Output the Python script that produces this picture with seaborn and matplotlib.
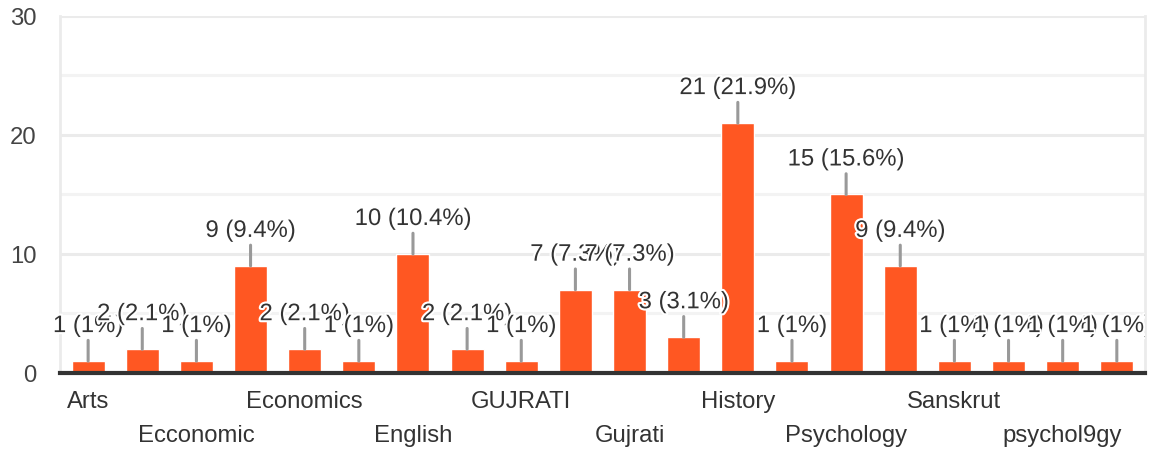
import matplotlib
matplotlib.use("Agg")
import matplotlib.pyplot as plt
import matplotlib.patheffects as pe
from matplotlib.transforms import Bbox
import seaborn as sns
import pandas as pd

# answers (only every other name is printed on the axis)
categories = ["Arts", "B.A.", "Ecconomic", "Economic", "Economics", "Education",
              "English", "Geography", "GUJRATI", "Gujarati", "Gujrati", "Hindi",
              "History", "Philosophy", "Psychology", "Sanskrit", "Sanskrut",
              "Sociology", "psychol9gy", "psychology"]
counts = [1, 2, 1, 9, 2, 1, 10, 2, 1, 7, 7, 3, 21, 1, 15, 9, 1, 1, 1, 1]
y_ticks = [0, 10, 20, 30]

total = sum(counts)
df = pd.DataFrame({"answer": categories, "count": counts})

sns.set_theme(style="white")
plt.rcParams['font.family'] = ['Liberation Sans', 'DejaVu Sans']

fig = plt.figure(figsize=(11.49, 4.52), dpi=100)
ax = fig.add_axes([0.0522, 0.1726, 0.9443, 0.7898])

sns.barplot(data=df, x="answer", y="count", color="#ff5722", saturation=1,
            width=0.61, ax=ax, zorder=2)

ax.set_ylim(0, 30)
ax.set_xlim(-0.52, len(categories) - 0.48)
ax.set_yticks(y_ticks)
ax.set_yticks([5, 15, 25], minor=True)
ax.grid(axis="y", which="major", color="#ebebeb", lw=2.2, zorder=0)
ax.grid(axis="y", which="minor", color="#f3f3f3", lw=2.2, zorder=0)
ax.set_axisbelow(True)

ax.spines["top"].set_visible(False)
for s in ["left", "right"]:
    ax.spines[s].set_color("#ebebeb")
    ax.spines[s].set_linewidth(2)
ax.spines["bottom"].set_color("#333333")
ax.spines["bottom"].set_linewidth(3)
ax.spines["bottom"].set_zorder(5)

# staggered category labels: two rows, every other category
row1 = list(range(0, len(categories), 4))
row2 = list(range(2, len(categories), 4))
ax.set_xticks(row1)
ax.set_xticklabels([categories[i] for i in row1])
ax.set_xticks(row2, minor=True)
ax.set_xticklabels([categories[i] for i in row2], minor=True)
ax.tick_params(axis="x", which="major", length=0, pad=12, labelsize=17.2, labelcolor="#333333")
ax.tick_params(axis="x", which="minor", length=0, pad=37, labelsize=17.2, labelcolor="#333333")
ax.tick_params(axis="y", which="both", length=0, pad=17, labelsize=17.2, labelcolor="#444444")
ax.set_xlabel("")
ax.set_ylabel("")

# value labels with leader lines; the original cuts them at the right edge only
clip = Bbox([[0, 0], [ax.bbox.x1, fig.bbox.y1]])
for bar, v in zip(ax.patches, counts):
    x = bar.get_x() + bar.get_width() / 2
    pct = round(v / total * 100, 1)
    pct_txt = f"{pct:g}"
    ann = ax.annotate(f"{v} ({pct_txt}%)", xy=(x, bar.get_height()), xytext=(0, 24),
                      textcoords="offset pixels", ha="center", va="bottom",
                      fontsize=17.2, color="#333333",
                      path_effects=[pe.withStroke(linewidth=3, foreground="white")],
                      arrowprops=dict(arrowstyle="-", color="#999999", lw=2.2,
                                      shrinkA=0, shrinkB=0),
                      annotation_clip=False, zorder=4)
    ann.set_clip_on(True)
    ann.set_clip_box(clip)

fig.savefig("out.png", dpi=100)
